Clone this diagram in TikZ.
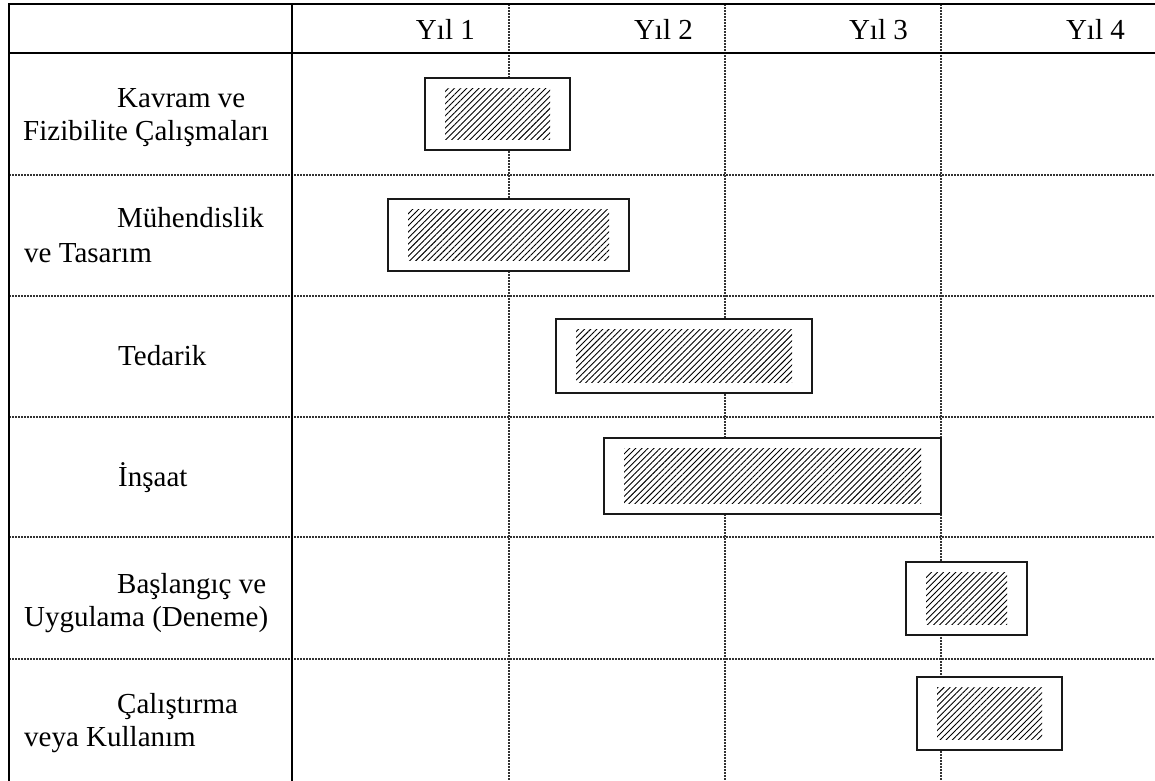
\documentclass[tikz,border=0pt]{standalone}
\usepackage{fontspec}
\setmainfont{Liberation Serif}
\usetikzlibrary{patterns.meta}
\begin{document}
\begin{tikzpicture}[x=1pt,y=-1pt,
  frame/.style={line width=2pt,black},
  gridline/.style={line width=1.6pt,black!80,dash pattern=on 1.6pt off 1.4pt},
  txt/.style={font=\fontsize{29}{34}\selectfont,inner sep=0pt},
  barbox/.style={draw=black!90,line width=2pt,fill=white,inner sep=0pt,outer sep=0pt},
  hatch/.style={pattern={Lines[angle=45,distance=4.3pt,line width=0.9pt]},pattern color=black},
]
\useasboundingbox (0,0) rectangle (1155,780);

% dotted row separators and year columns
\foreach \yy in {175,296,417,537,659}
  \draw[gridline] (9,\yy) -- (1160,\yy);
\foreach \xx in {509,725,941}
  \draw[gridline] (\xx,4) -- (\xx,784);

% solid frame, header rule and label column
\draw[frame] (9,784) -- (9,4) -- (1160,4);
\draw[frame] (9,53) -- (1160,53);
\draw[frame] (292,4) -- (292,784);

% year headings
\node[txt,anchor=base east] (y1) at (475,39) {Yıl 1};
\node[txt,anchor=base east] (y2) at (693,39) {Yıl 2};
\node[txt,anchor=base east] (y3) at (908,39) {Yıl 3};
\node[txt,anchor=base east] (y4) at (1125,39) {Yıl 4};

% activity names
\node[txt,anchor=base west] (a1) at (117,107) {Kavram ve};
\node[txt,anchor=base west] (a1b) at (23,140) {Fizibilite Çalışmaları};
\node[txt,anchor=base west] (a2) at (117,227) {Mühendislik};
\node[txt,anchor=base west] (a2b) at (24,262) {ve Tasarım};
\node[txt,anchor=base west] (a3) at (118,365) {Tedarik};
\node[txt,anchor=base west] (a4) at (118,486) {İnşaat};
\node[txt,anchor=base west] (a5) at (117,593) {Başlangıç ve};
\node[txt,anchor=base west] (a5b) at (24,626) {Uygulama (Deneme)};
\node[txt,anchor=base west] (a6) at (117,713) {Çalıştırma};
\node[txt,anchor=base west] (a6b) at (24,746) {veya Kullanım};

% bars: name, centre x, centre y, width, height
\newcommand\ganttbar[5]{%
  \node[barbox,minimum width=#4pt,minimum height=#5pt] (#1) at (#2,#3) {};
  \path[hatch] ([xshift=20pt,yshift=10.5pt]#1.south west)
    rectangle ([xshift=-20pt,yshift=-10.5pt]#1.north east);
}
\ganttbar{b1}{497.5}{114}{145}{72}
\ganttbar{b2}{508.5}{235}{241}{72}
\ganttbar{b3}{684}{356}{256}{74}
\ganttbar{b4}{772.5}{476}{337}{76}
\ganttbar{b5}{966.5}{598.5}{121}{73}
\ganttbar{b6}{989.5}{713.5}{145}{73}
\end{tikzpicture}
\end{document}
